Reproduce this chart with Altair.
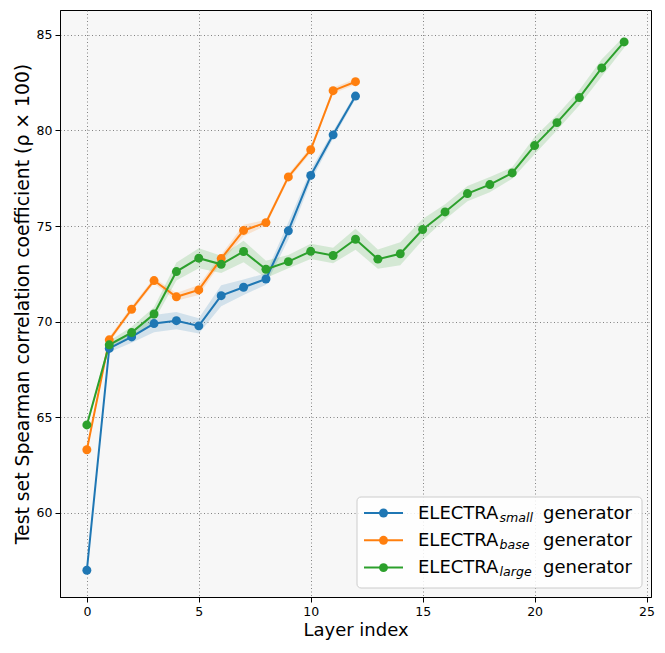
import altair as alt
import pandas as pd

layers_small = list(range(13))
small_vals = [57.0, 68.6, 69.2, 69.9, 70.05, 69.78, 71.36, 71.8, 72.23, 74.75, 77.65, 79.77, 81.8]
small_err = [0.15, 0.2, 0.3, 0.45, 0.45, 0.4, 0.55, 0.4, 0.3, 0.45, 0.3, 0.2, 0.15]

layers_base = list(range(13))
base_vals = [63.3, 69.05, 70.65, 72.15, 71.3, 71.66, 73.3, 74.77, 75.18, 77.57, 78.99, 82.08, 82.55]
base_err = [0.15, 0.15, 0.15, 0.15, 0.2, 0.26, 0.2, 0.3, 0.15, 0.15, 0.15, 0.15, 0.15]

layers_large = list(range(25))
large_vals = [64.6, 68.79, 69.43, 70.4, 72.62, 73.32, 73.0, 73.67, 72.74, 73.14, 73.68,
              73.46, 74.31, 73.27, 73.55, 74.82, 75.74, 76.7, 77.17, 77.78, 79.21,
              80.41, 81.72, 83.27, 84.63]
large_err = [0.15, 0.2, 0.3, 0.35, 0.47, 0.52, 0.45, 0.56, 0.45, 0.35, 0.4, 0.4, 0.55,
             0.5, 0.6, 0.55, 0.4, 0.4, 0.4, 0.3, 0.45, 0.4, 0.4, 0.45, 0.3]

models = ["small", "base", "large"]
colors = ["#1f77b4", "#ff7f0e", "#2ca02c"]
x_ticks = [0, 5, 10, 15, 20, 25]
y_ticks = [60, 65, 70, 75, 80, 85]

rows = []
for m, ls, vs, es in [("small", layers_small, small_vals, small_err),
                      ("base", layers_base, base_vals, base_err),
                      ("large", layers_large, large_vals, large_err)]:
    for l, v, e in zip(ls, vs, es):
        rows.append({"model": m, "layer": l, "value": v, "lower": v - e, "upper": v + e})
df = pd.DataFrame(rows)

FONT = "DejaVu Sans"
W, H = 591, 587

xenc = alt.X("layer:Q", scale=alt.Scale(domain=[-1.2, 25.2], nice=False, zero=False),
             axis=alt.Axis(values=x_ticks, title="Layer index", format="d"))
yenc = alt.Y("value:Q", scale=alt.Scale(domain=[55.6, 86.3], nice=False, zero=False),
             axis=alt.Axis(values=y_ticks, title="Test set Spearman correlation coefficient (ρ × 100)"))
cenc = alt.Color("model:N", scale=alt.Scale(domain=models, range=colors), legend=None)

base = alt.Chart(df)
band = base.mark_area(opacity=0.17).encode(
    x=xenc, y=alt.Y("lower:Q"), y2="upper:Q", color=cenc, detail="model:N")
line = base.mark_line(strokeWidth=2).encode(x=xenc, y=yenc, color=cenc, detail="model:N")
pts = base.mark_circle(size=80, opacity=1).encode(x=xenc, y=yenc, color=cenc)

# custom legend
leg_df = pd.DataFrame({"row": [0, 1, 2], "sub": models, "color": colors})
leg = alt.Chart(leg_df).transform_calculate(
    py="503 + 27.3*datum.row", pb="508.8 + 27.3*datum.row", ps="511.8 + 27.3*datum.row")
box = alt.Chart(pd.DataFrame({"a": [0]})).mark_rect(
    fill="white", fillOpacity=0.85, stroke="#cccccc", strokeWidth=1, cornerRadius=4).encode(
    x=alt.value(297), x2=alt.value(582), y=alt.value(487), y2=alt.value(578))
leg_line = leg.mark_rule(strokeWidth=2).encode(
    x=alt.value(304), x2=alt.value(343), y=alt.Y("py:Q", scale=None),
    color=alt.Color("color:N", scale=None))
leg_pt = leg.mark_circle(size=80, opacity=1).encode(
    x=alt.value(323.5), y=alt.Y("py:Q", scale=None), color=alt.Color("color:N", scale=None))
leg_t1 = leg.mark_text(text="ELECTRA", font=FONT, fontSize=18, align="left",
                       baseline="alphabetic", color="black").encode(
    x=alt.value(358), y=alt.Y("pb:Q", scale=None))
leg_t2 = leg.mark_text(font=FONT, fontSize=12.6, fontStyle="italic", align="left",
                       baseline="alphabetic", color="black").encode(
    x=alt.value(439.5), y=alt.Y("ps:Q", scale=None), text="sub:N")
leg_t3 = leg.mark_text(text="generator", font=FONT, fontSize=18, align="left",
                       baseline="alphabetic", color="black").encode(
    x=alt.value(483), y=alt.Y("pb:Q", scale=None))

chart = alt.layer(band, line, pts, box, leg_line, leg_pt, leg_t1, leg_t2, leg_t3).properties(
    width=W, height=H,
    autosize=alt.AutoSizeParams(type="none"),
    padding={"left": 52, "top": 2, "right": 6, "bottom": 48},
    background="white",
).configure_view(
    fill="#f7f7f7", stroke="black", strokeWidth=1
).configure_axis(
    labelFont=FONT, titleFont=FONT, labelFontSize=12.5, titleFontSize=18,
    labelColor="black", titleColor="black", titleFontWeight="normal",
    tickColor="black", tickSize=5, tickWidth=1, domainColor="black", domainWidth=1,
    grid=True, gridColor="#555555", gridDash=[1, 2.5], gridWidth=0.8, gridOpacity=0.9,
    labelPadding=3, labelFlush=False, labelOverlap=False
).configure_axisX(titlePadding=4).configure_axisY(titlePadding=4, titleFontSize=18.8)

chart.save("out.html", embed_options={"renderer": "svg", "actions": False})
